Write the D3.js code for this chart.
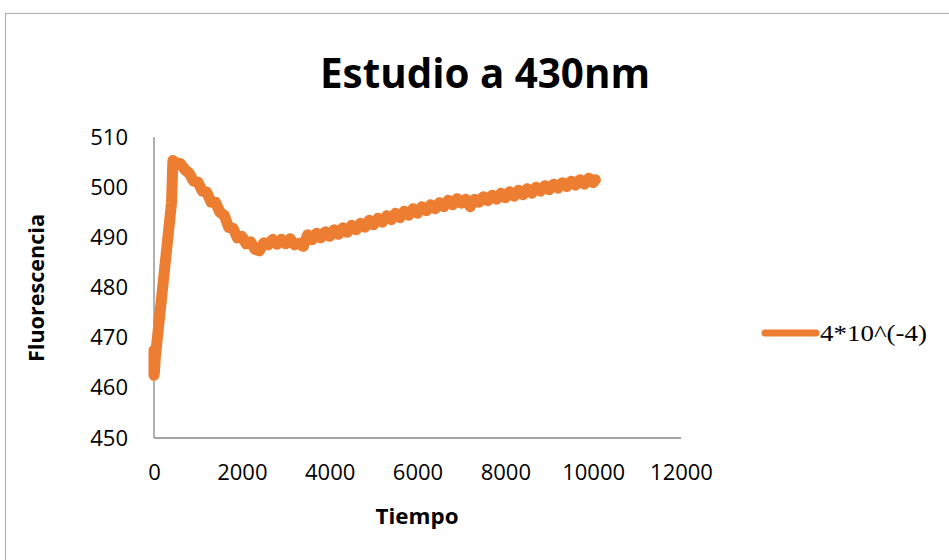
<!DOCTYPE html>
<html>
<head>
<meta charset="utf-8">
<script src="https://cdn.jsdelivr.net/npm/d3@7"></script>
<style>
  html, body { margin: 0; padding: 0; background: #fff; }
  svg { display: block; }
</style>
</head>
<body>
<svg id="chart" width="949" height="560"></svg>
<script>
// ---- data ----
const title = "Estudio a 430nm";
const xTitle = "Tiempo";
const yTitle = "Fluorescencia";
const seriesName = "4*10^(-4)";
const xTicks = [0, 2000, 4000, 6000, 8000, 10000, 12000];
const yTicks = [450, 460, 470, 480, 490, 500, 510];

const tiempo = [0, 0, 10, 30, 400, 430, 500, 600, 700, 800, 900, 1000, 1100, 1200, 1300, 1400,
  1500, 1600, 1700, 1800, 1900, 2000, 2100, 2200, 2300, 2400, 2500, 2600, 2700, 2800, 2900,
  3000, 3100, 3200, 3300, 3400, 3500, 3600, 3700, 3800, 3900, 4000, 4100, 4200, 4300, 4400,
  4500, 4600, 4700, 4800, 4900, 5000, 5100, 5200, 5300, 5400, 5500, 5600, 5700, 5800, 5900,
  6000, 6100, 6200, 6300, 6400, 6500, 6600, 6700, 6800, 6900, 7000, 7100, 7200, 7300, 7400,
  7500, 7600, 7700, 7800, 7900, 8000, 8100, 8200, 8300, 8400, 8500, 8600, 8700, 8800, 8900,
  9000, 9100, 9200, 9300, 9400, 9500, 9600, 9700, 9800, 9900, 10000, 10050];

const fluorescencia = [462.5, 467.5, 463, 466, 497, 505.3, 504.8, 504.7, 503.5, 502.8, 501.2, 501.0,
  499.2, 499.0, 497.0, 497.0, 495.0, 494.4, 492.0, 491.8, 489.9, 490.2, 488.7, 489.1, 487.6,
  487.3, 488.9, 488.5, 489.6, 488.6, 489.6, 488.7, 489.7, 488.5, 488.8, 488.2, 490.5, 489.5,
  490.8, 489.9, 491.1, 490.2, 491.5, 490.6, 491.9, 491.0, 492.4, 491.5, 492.8, 492.0, 493.4,
  492.5, 493.8, 493.0, 494.3, 493.5, 494.8, 493.9, 495.2, 494.4, 495.7, 494.8, 496.1, 495.3,
  496.5, 495.7, 496.9, 496.1, 497.4, 496.5, 497.7, 496.8, 497.6, 496.1, 497.6, 497.0, 498.1,
  497.3, 498.4, 497.6, 498.8, 497.9, 499.1, 498.2, 499.4, 498.5, 499.7, 498.8, 500.0, 499.2,
  500.3, 499.5, 500.6, 499.8, 500.9, 500.1, 501.2, 500.4, 501.5, 500.6, 501.8, 500.9, 501.5];

const data = tiempo.map((t, i) => ({ t, v: fluorescencia[i] }));

// ---- layout ----
const svg = d3.select("#chart");
const color = "#ED7D31";
const axisColor = "#868686";
const font = "'Open Sans', 'DejaVu Sans', sans-serif";

const x = d3.scaleLinear().domain([0, 12000]).range([154, 681]);
const y = d3.scaleLinear().domain([450, 510]).range([438, 137]);

// outer chart border
svg.append("rect")
  .attr("x", 5.5).attr("y", 13.5)
  .attr("width", 960).attr("height", 560)
  .attr("fill", "#fff")
  .attr("stroke", "#b3b3b3").attr("stroke-width", 1.2);

// title
svg.append("text")
  .attr("x", 485).attr("y", 88)
  .attr("text-anchor", "middle")
  .attr("font-family", font).attr("font-weight", "bold")
  .attr("font-size", 42)
  .attr("textLength", 330).attr("lengthAdjust", "spacingAndGlyphs")
  .text(title);

// axes
const xAxis = d3.axisBottom(x).tickValues(xTicks).tickSize(0).tickPadding(26)
  .tickFormat(d3.format("d"));
const yAxis = d3.axisLeft(y).tickValues(yTicks).tickSize(0).tickPadding(26)
  .tickFormat(d3.format("d"));

const gx = svg.append("g").attr("transform", `translate(0,${y(450)})`).call(xAxis);
const gy = svg.append("g").attr("transform", `translate(${x(0)},0)`).call(yAxis);

[gx, gy].forEach(g => {
  g.select(".domain").attr("stroke", axisColor).attr("stroke-width", 1.3);
  g.selectAll("text")
    .attr("font-family", font).attr("font-size", 22)
    .attr("fill", "#000");
});
gx.selectAll(".domain").attr("d", `M${x(0)},0H${x(12000)}`);
gy.selectAll(".domain").attr("d", `M0,${y(450)}V${y(510)}`);
gx.selectAll("text").attr("dy", "0.71em").attr("y", 26);

// axis titles
svg.append("text")
  .attr("x", 417).attr("y", 524)
  .attr("text-anchor", "middle")
  .attr("font-family", font).attr("font-weight", "bold")
  .attr("font-size", 22)
  .attr("textLength", 83).attr("lengthAdjust", "spacingAndGlyphs")
  .text(xTitle);

svg.append("text")
  .attr("transform", `translate(44,${288}) rotate(-90)`)
  .attr("text-anchor", "middle")
  .attr("font-family", font).attr("font-weight", "bold")
  .attr("font-size", 21)
  .attr("textLength", 148).attr("lengthAdjust", "spacingAndGlyphs")
  .text(yTitle);

// series line
const line = d3.line().x(d => x(d.t)).y(d => y(d.v));
svg.append("path")
  .datum(data)
  .attr("d", line)
  .attr("fill", "none")
  .attr("stroke", color)
  .attr("stroke-width", 11)
  .attr("stroke-linejoin", "round")
  .attr("stroke-linecap", "round");

// legend
const lg = svg.append("g");
lg.append("line")
  .attr("x1", 765).attr("x2", 816)
  .attr("y1", 333).attr("y2", 333)
  .attr("stroke", color).attr("stroke-width", 7)
  .attr("stroke-linecap", "round");
lg.append("text")
  .attr("x", 820).attr("y", 341)
  .attr("font-family", "'Liberation Serif', 'DejaVu Serif', serif")
  .attr("font-size", 23)
  .attr("textLength", 107).attr("lengthAdjust", "spacingAndGlyphs")
  .text(seriesName);
</script>
</body>
</html>
